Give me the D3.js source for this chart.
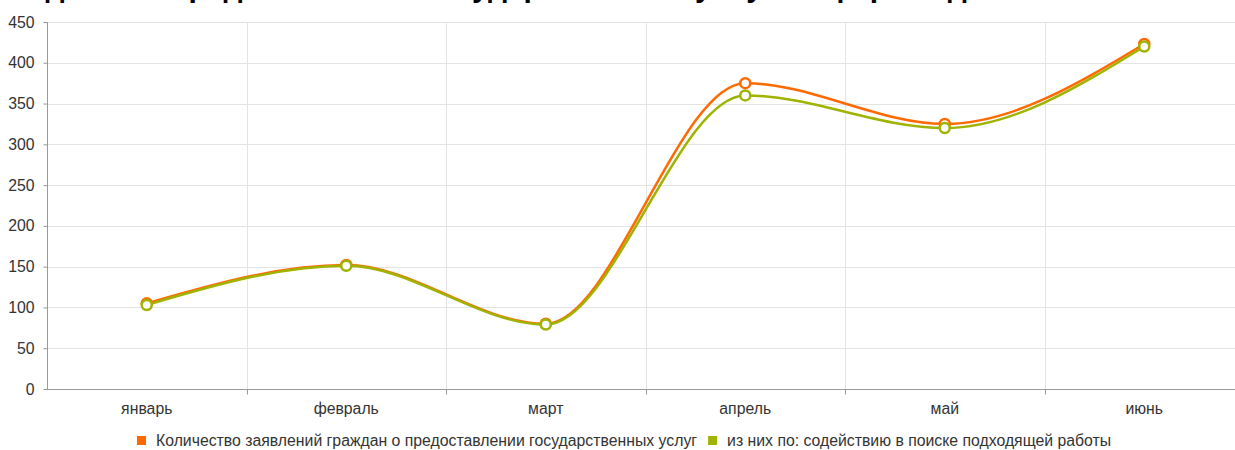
<!DOCTYPE html>
<html><head><meta charset="utf-8">
<script src="https://cdn.jsdelivr.net/npm/d3@7"></script>
<style>body{margin:0;background:#fff;overflow:hidden}svg{display:block}</style>
</head><body>
<svg id="c" width="1235" height="450"></svg>
<script>
const categories = ["январь","февраль","март","апрель","май","июнь"];
const seriesNames = ["Количество заявлений граждан о предоставлении государственных услуг","из них по: содействию в поиске подходящей работы"];
const seriesTotal = [105, 152, 80, 375, 325, 423];
const seriesJob = [103, 151, 79, 360, 320, 420];
const yTicks = [0,50,100,150,200,250,300,350,400,450];
const colors = ["#ff6a00","#9fb300"];
const chartTitle = "Сведения о предоставлении государственных услуг в сфере содействия занятости";

(function(){
const svg = d3.select("#c");
const font = "'Liberation Sans', Arial, sans-serif";
const fs = 15.8;
const pL = 47, pR = 1244, pT = 22, pB = 389;

svg.append("text").attr("x", 617).attr("y", -3).attr("text-anchor","middle")
  .attr("font-family", font).attr("font-weight","bold").attr("font-size", 30).attr("fill","#000").text(chartTitle);

const x = d3.scaleBand().domain(categories).range([pL, pR]);
const y = d3.scaleLinear().domain([0,450]).range([pB, pT]);

const g = svg.append("g");
g.selectAll("line.h").data(yTicks.slice(1)).join("line")
  .attr("x1", pL).attr("x2", pR).attr("y1", d=>Math.round(y(d))+0.5).attr("y2", d=>Math.round(y(d))+0.5)
  .attr("stroke","#e3e3e3").attr("stroke-width",1);
g.selectAll("line.v").data(categories.slice(1)).join("line")
  .attr("x1", d=>Math.round(x(d))+0.5).attr("x2", d=>Math.round(x(d))+0.5).attr("y1", pT).attr("y2", pB)
  .attr("stroke","#e3e3e3").attr("stroke-width",1);

const ya = svg.append("g").attr("transform",`translate(${pL+0.5},0)`)
  .call(d3.axisLeft(y).tickValues(yTicks).tickSize(4).tickPadding(9));
ya.select(".domain").attr("stroke","#999").attr("d", `M-4,${pT+0.5}H0V${pB}`);
ya.selectAll(".tick line").attr("stroke","#999");
ya.selectAll("text").attr("font-family", font).attr("font-size", fs).attr("fill","#333");

const xa = svg.append("g").attr("transform",`translate(0,${pB+0.5})`)
  .call(d3.axisBottom(x).tickSize(0).tickPadding(13));
xa.select(".domain").attr("stroke","#999").attr("d", `M${pL},0H${pR}`);
xa.selectAll("text").attr("font-family", font).attr("font-size", fs).attr("fill","#333");
xa.selectAll("line.sep").data(categories.slice(1)).join("line").attr("class","sep")
  .attr("x1", d=>Math.round(x(d))+0.5).attr("x2", d=>Math.round(x(d))+0.5).attr("y1",0).attr("y2",5)
  .attr("stroke","#999");

const cx = d => x(d) + x.bandwidth()/2;
const line = d3.line().x((d,i)=>cx(categories[i])).y(d=>y(d)).curve(d3.curveMonotoneX);
const data = [seriesTotal, seriesJob];
data.forEach((s, k) => {
  svg.append("path").attr("d", line(s)).attr("fill","none").attr("stroke", colors[k]).attr("stroke-width", 2.5);
});
data.forEach((s, k) => {
  svg.append("g").selectAll("circle").data(s).join("circle")
    .attr("cx", (d,i)=>cx(categories[i])).attr("cy", d=>y(d)).attr("r", 5)
    .attr("fill","#fff").attr("stroke", colors[k]).attr("stroke-width", 2.5);
});

const leg = svg.append("g");
let lx = 137;
seriesNames.forEach((name, k) => {
  leg.append("rect").attr("x", lx).attr("y", 436).attr("width", 9).attr("height", 9).attr("fill", colors[k]);
  const t = leg.append("text").attr("x", lx+19).attr("y", 446).attr("font-family", font).attr("font-size", fs).attr("fill","#333").text(name);
  lx += 19 + t.node().getComputedTextLength() + 11;
});
})();
</script>
</body></html>
